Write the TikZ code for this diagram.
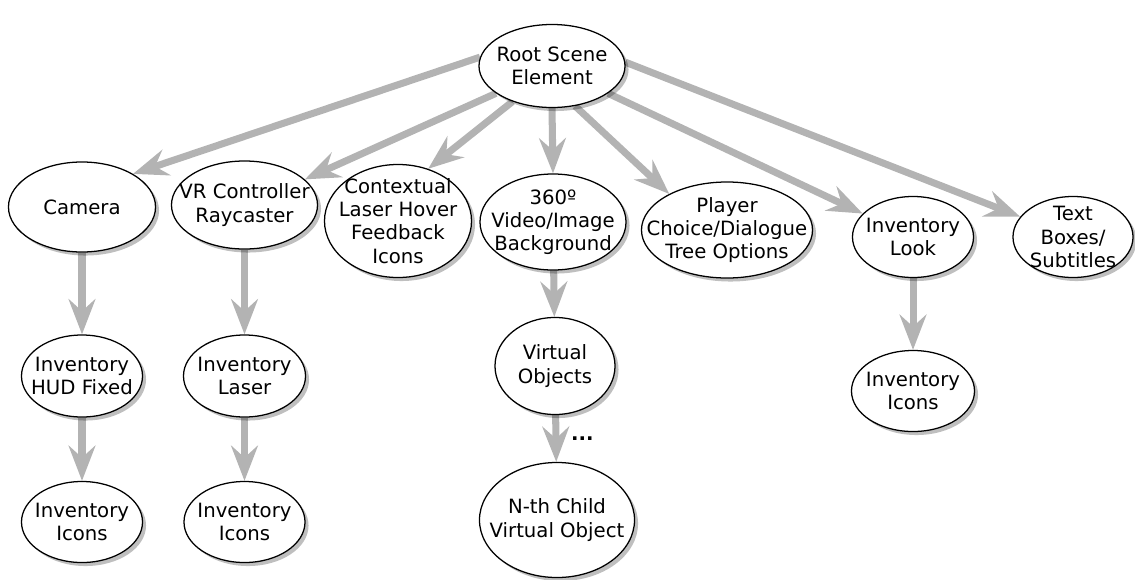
\documentclass[tikz,border=0pt]{standalone}
\usepackage{fontspec}
\setmainfont{DejaVu Sans}
\usepackage{tikz}
\usetikzlibrary{shapes.geometric}
\usetikzlibrary{shadows}
\usetikzlibrary{arrows.meta}
\usetikzlibrary{backgrounds}

\definecolor{linkgray}{RGB}{179,179,179}

\begin{document}
\begin{tikzpicture}[x=0.025cm, y=-0.025cm,
	      elt/.style={ellipse, draw, line width=.9pt, fill=white, inner xsep=-30pt, inner ysep=-20pt,
	        align=center, font=\fontsize{14}{16.5}\selectfont,
	        drop shadow={shadow xshift=2.5pt, shadow yshift=-2.5pt, fill=black, opacity=.25}},
	      dims/.style 2 args={minimum width=#1, minimum height=#2},
	      link/.style={draw=linkgray, line width=5pt, -{Stealth[length=25pt,width=19pt,inset=8.5pt]}}]
\useasboundingbox (0,0) rectangle (1135,579);

\node[elt, dims={3.65cm}{2.075cm}] (root) at (552,66) {Root Scene\\Element};

\node[elt, dims={3.675cm}{2.25cm}] (camera) at (82,207) {Camera};
\node[elt, dims={3.65cm}{2.2cm}] (vr) at (244.5,205) {VR Controller\\Raycaster};
\node[elt, dims={3.675cm}{2.825cm}] (hover) at (398,221) {Contextual\\Laser Hover\\Feedback\\Icons};
\node[elt, dims={3.65cm}{2.4cm}] (bg360) at (553,222) {360º\\Video/Image\\Background};
\node[elt, dims={4.275cm}{2.4cm}] (player) at (727,230) {Player\\Choice/Dialogue\\Tree Options};
\node[elt, dims={3.025cm}{2.025cm}] (look) at (913,237) {Inventory\\Look};
\node[elt, dims={3cm}{2.025cm}] (subtitles) at (1073,237) {Text\\Boxes/\\Subtitles};

\node[elt, dims={3.025cm}{2.05cm}] (hud) at (82,376) {Inventory\\HUD Fixed};
\node[elt, dims={3.05cm}{2.05cm}] (laser) at (244.5,376) {Inventory\\Laser};
\node[elt, dims={3cm}{2.425cm}] (virtual) at (555,366) {Virtual\\Objects};
\node[elt, dims={3.075cm}{2.025cm}] (look icons) at (913,391) {Inventory\\Icons};

\node[elt, dims={3.025cm}{2.025cm}] (hud icons) at (82,522) {Inventory\\Icons};
\node[elt, dims={3.025cm}{2.025cm}] (laser icons) at (244.5,522) {Inventory\\Icons};
\node[elt, dims={3.875cm}{2.875cm}] (nth) at (557,520) {N-th Child\\Virtual Object};

\begin{scope}[on background layer]
\draw[link] (root.173) -- (camera.33);
\draw[link] (root.206) -- (vr.23);
\draw[link] (root.222) -- (hover.60);
\draw[link] (root.south) -- (bg360.north);
\draw[link] (root.300) -- (player.148);
\draw[link] (root.334) -- (look.155);
\draw[link] (root.3) -- (subtitles.159);
\draw[link] (camera) -- (hud);
\draw[link] (hud) -- (hud icons);
\draw[link] (vr) -- (laser);
\draw[link] (laser) -- (laser icons);
\draw[link] (bg360) -- (virtual);
\draw[link] (virtual) -- (nth) node[midway, right=5pt, font=\fontsize{14}{16.5}\bfseries] (dots) {...};
\draw[link] (look) -- (look icons);
\end{scope}
\end{tikzpicture}
\end{document}
